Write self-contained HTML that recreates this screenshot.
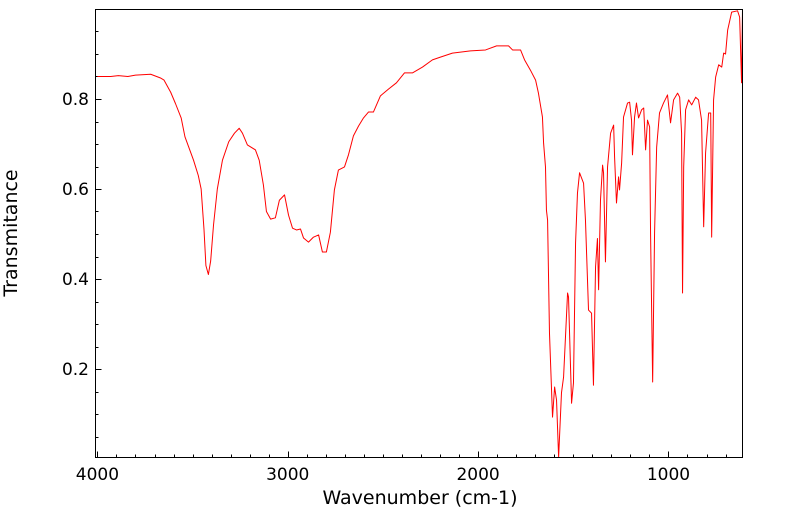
<!DOCTYPE html>
<html><head><meta charset="utf-8"><style>
html,body{margin:0;padding:0;background:#fff;}
svg{display:block;font-family:"DejaVu Sans","Liberation Sans",sans-serif;}
</style></head><body>
<svg id="chart" width="799" height="516" viewBox="0 0 799 516">
<rect x="0" y="0" width="799" height="516" fill="#fff"/>
<g id="ticks"></g>
<path id="line" fill="none" stroke="#ff0000" stroke-width="1" stroke-linejoin="round"/>
<rect x="95.5" y="9.5" width="647" height="448" fill="none" stroke="#000" stroke-width="1"/>
<text x="17" y="233" font-size="19" text-anchor="middle" transform="rotate(-90 17 233)">Transmitance</text>
<text x="420" y="504" font-size="19" text-anchor="middle">Wavenumber (cm-1)</text>
</svg>
<script>
const wavenumbers = [4000,3930,3890,3840,3800,3720,3670,3650,3615,3590,3560,3540,3495,3470,3455,3440,3430,3417,3405,3390,3370,3343,3310,3280,3255,3238,3212,3170,3150,3128,3112,3090,3065,3044,3017,2996,2975,2954,2933,2917,2891,2865,2838,2818,2797,2776,2755,2734,2702,2681,2655,2628,2602,2576,2550,2513,2471,2429,2387,2345,2292,2240,2198,2135,2040,1961,1903,1840,1819,1777,1756,1725,1698,1683,1662,1656,1646,1641,1635,1625,1609,1598,1588,1577,1562,1551,1530,1525,1509,1499,1488,1478,1467,1446,1436,1420,1404,1394,1383,1373,1367,1357,1346,1341,1331,1320,1304,1288,1283,1273,1262,1257,1246,1236,1215,1204,1194,1189,1178,1168,1157,1141,1130,1120,1110,1099,1094,1083,1073,1062,1047,1026,1005,989,973,952,941,931,926,920,910,894,878,857,842,826,815,805,789,778,773,763,752,736,720,710,700,689,668,637,626,616,611];
const transmittance = [0.85,0.85,0.852,0.85,0.853,0.855,0.847,0.842,0.815,0.79,0.758,0.716,0.664,0.63,0.6,0.51,0.43,0.41,0.44,0.52,0.6,0.664,0.705,0.724,0.735,0.724,0.698,0.687,0.664,0.609,0.55,0.533,0.536,0.575,0.587,0.542,0.513,0.509,0.511,0.491,0.482,0.493,0.498,0.46,0.46,0.504,0.598,0.642,0.649,0.676,0.718,0.74,0.758,0.771,0.771,0.807,0.822,0.836,0.858,0.858,0.871,0.887,0.893,0.902,0.907,0.909,0.918,0.918,0.909,0.909,0.887,0.864,0.842,0.813,0.76,0.702,0.649,0.553,0.531,0.28,0.093,0.16,0.131,0.004,0.147,0.182,0.369,0.36,0.124,0.169,0.48,0.591,0.636,0.613,0.531,0.331,0.324,0.164,0.427,0.49,0.376,0.576,0.653,0.636,0.438,0.649,0.724,0.742,0.671,0.569,0.627,0.598,0.658,0.76,0.791,0.793,0.753,0.676,0.76,0.791,0.758,0.776,0.78,0.687,0.753,0.738,0.502,0.171,0.502,0.693,0.769,0.791,0.809,0.747,0.798,0.813,0.804,0.724,0.369,0.649,0.776,0.798,0.787,0.804,0.798,0.753,0.516,0.68,0.769,0.769,0.493,0.798,0.849,0.876,0.871,0.902,0.9,0.953,0.993,0.996,0.982,0.836,1.0];
const xTickValues = [4000,3000,2000,1000];
const xTickLabels = ["4000","3000","2000","1000"];
const yTickValues = [0.2,0.4,0.6,0.8];
const yTickLabels = ["0.2","0.4","0.6","0.8"];

const X0 = 4010, X1 = 611, PX0 = 95.5, PX1 = 742.5;
const Y0 = 0, Y1 = 1.0, PY0 = 459, PY1 = 9;
function sx(v){ return PX0 + (X0 - v) / (X0 - X1) * (PX1 - PX0); }
function sy(v){ return PY0 - (v - Y0) / (Y1 - Y0) * (PY0 - PY1); }

const NS = "http://www.w3.org/2000/svg";
let d = "";
for (let i = 0; i < wavenumbers.length; i++) {
  d += (i ? "L" : "M") + sx(wavenumbers[i]).toFixed(2) + " " + sy(transmittance[i]).toFixed(2);
}
document.getElementById("line").setAttribute("d", d);

const tg = document.getElementById("ticks");
function ln(x1,y1,x2,y2,name){
  const l = document.createElementNS(NS,"line");
  l.setAttribute("x1",x1); l.setAttribute("y1",y1); l.setAttribute("x2",x2); l.setAttribute("y2",y2);
  l.setAttribute("stroke","#000"); l.setAttribute("stroke-width","1");
  
  
  tg.appendChild(l);
}
function tx(x,y,s,anchor,name){
  const t = document.createElementNS(NS,"text");
  t.setAttribute("x",x); t.setAttribute("y",y); t.setAttribute("font-size","17");
  t.setAttribute("text-anchor",anchor); t.textContent = s;
  
  
  tg.appendChild(t);
}
for (let v = 4000; v >= 700; v -= 100) {
  const x = Math.round(sx(v)) + 0.5;
  const major = v % 1000 === 0;
  ln(x, 457.5, x, 457.5 - (major ? 6 : 3), "x-tick");
}
xTickValues.forEach((v,i) => tx(sx(v), 480, xTickLabels[i], "middle", "x-tick-label"));
for (let k = 1; k <= 19; k++) {
  const v = k * 0.05;
  const y = Math.round(sy(v)) + 0.5;
  const major = k % 4 === 0;
  ln(95.5, y, 95.5 + (major ? 6 : 3), y, "y-tick");
}
yTickValues.forEach((v,i) => tx(89, sy(v) + 6, yTickLabels[i], "end", "y-tick-label"));
</script>
</body></html>
